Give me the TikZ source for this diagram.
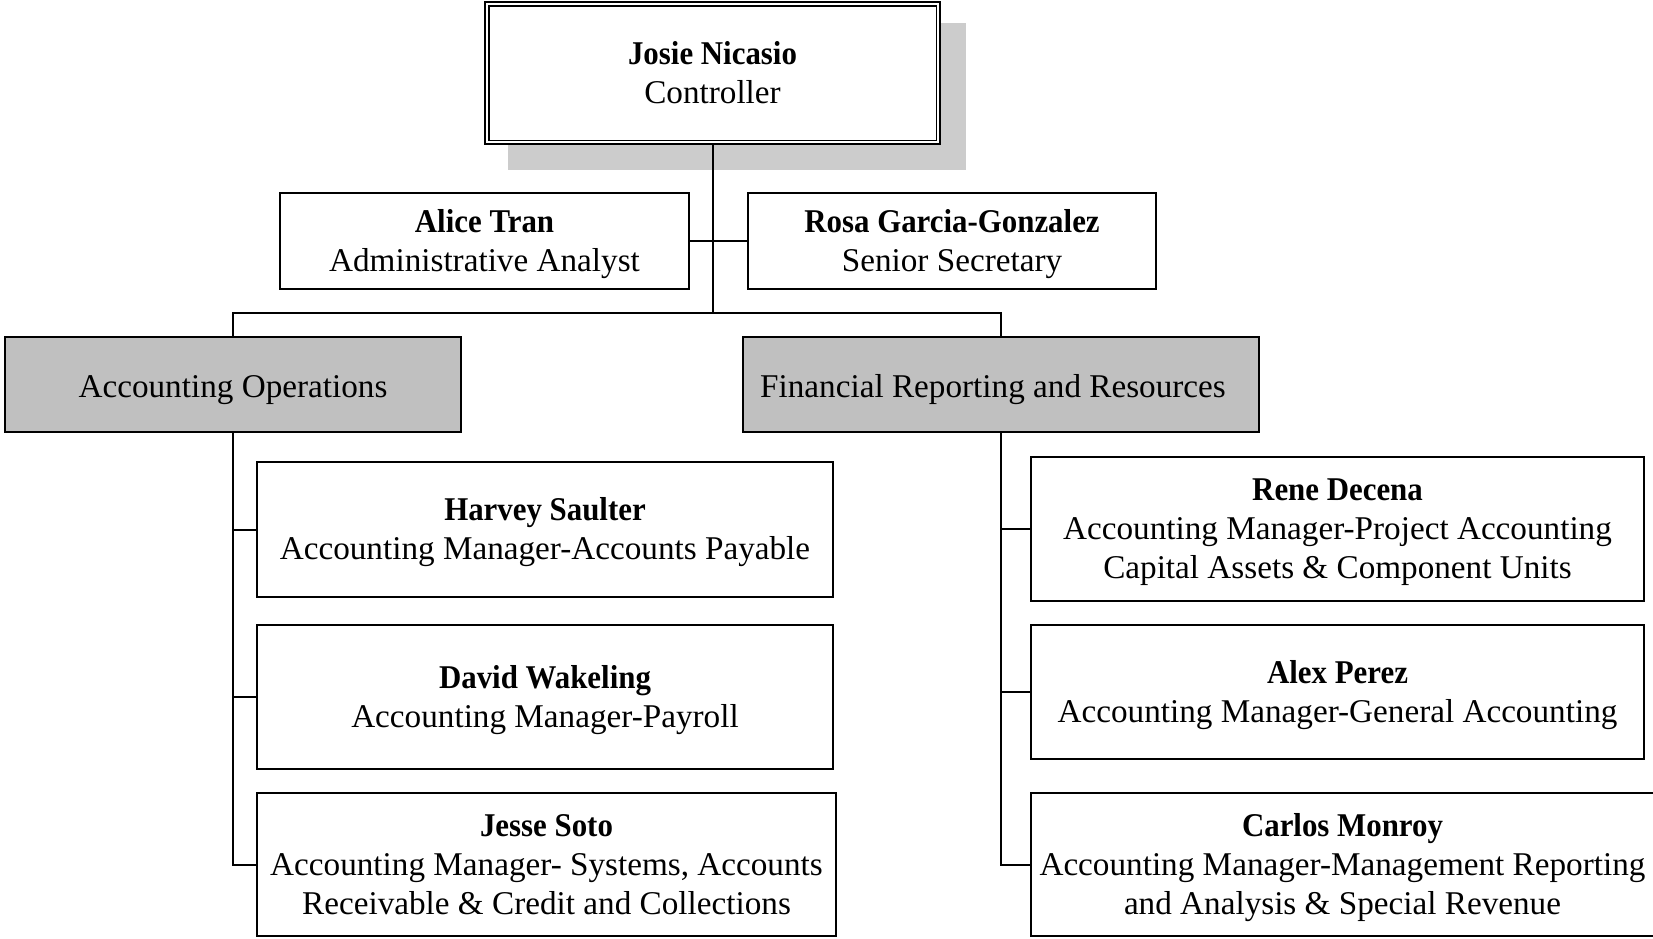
\documentclass[tikz,border=0pt]{standalone}
\usepackage{fontspec}
\setmainfont{Liberation Serif}
\definecolor{deptgray}{HTML}{C0C0C0}
\definecolor{shadowgray}{HTML}{CCCCCC}
\newcommand\pname[1]{\rule{0pt}{14.4pt}\scalebox{0.93}[1]{\textbf{#1}}}
\newcommand\dname[1]{\rule{0pt}{16.4pt}#1}
\begin{document}
\begin{tikzpicture}[x=0.5pt,y=-0.5pt,
  box/.style={draw, line width=1pt, fill=white, align=center, inner sep=0pt,
    font=\fontsize{16.6}{19.5}\selectfont},
  dept/.style={box, fill=deptgray},
  conn/.style={line width=1pt}]
\useasboundingbox (0,0) rectangle (1653,938);
% shadow of top box
\fill[shadowgray] (508,23) rectangle (966,170);
% nodes
\node[box, line width=1.3pt, minimum width=227.5pt, minimum height=71pt] (ctrl) at (712.5,73) {\scalebox{0.93}[1]{\textbf{Josie Nicasio}}\\Controller};
\draw[line width=0.6pt] ([xshift=2.6pt,yshift=-2.6pt]ctrl.north west) rectangle ([xshift=-2.6pt,yshift=2.6pt]ctrl.south east);
\node[box, minimum width=204.5pt, minimum height=48pt] (alice) at (484.5,241) {\pname{Alice Tran}\\Administrative Analyst};
\node[box, minimum width=204pt, minimum height=48pt] (rosa) at (952,241) {\pname{Rosa Garcia-Gonzalez}\\Senior Secretary};
\node[dept, minimum width=228pt, minimum height=47.5pt] (ops) at (233,384.5) {\dname{Accounting Operations}};
\node[dept, minimum width=258pt, minimum height=47.5pt] (fin) at (1001,384.5) {\dname{Financial Reporting and Resources}\hspace*{8pt}};
\node[box, minimum width=288pt, minimum height=67.5pt] (harvey) at (545,529.5) {\pname{Harvey Saulter}\\Accounting Manager-Accounts Payable};
\node[box, minimum width=288pt, minimum height=72pt] (david) at (545,697) {\pname{David Wakeling}\\Accounting Manager-Payroll};
\node[box, minimum width=289.5pt, minimum height=71.5pt] (jesse) at (546.5,864.5) {\scalebox{0.93}[1]{\textbf{Jesse Soto}}\\Accounting Manager- Systems, Accounts\\Receivable \& Credit and Collections};
\node[box, minimum width=306.5pt, minimum height=72pt] (rene) at (1337.5,529) {\pname{Rene Decena}\\Accounting Manager-Project Accounting\\Capital Assets \& Component Units};
\node[box, minimum width=306.5pt, minimum height=67pt] (alex) at (1337.5,692) {\pname{Alex Perez}\\Accounting Manager-General Accounting};
\node[box, minimum width=311.5pt, minimum height=71.5pt] (carlos) at (1342.5,864.5) {\pname{Carlos Monroy}\\Accounting Manager-Management Reporting\\and Analysis \& Special Revenue};
% connectors
\coordinate (j) at (712.5,313);
\draw[conn] (ctrl.south) -- (j);
\draw[conn] (alice.east) -- (rosa.west);
\draw[conn] (ops.north) |- (j) -| (fin.north);
\draw[conn] (ops.south) |- (jesse.west);
\draw[conn] (ops.south |- harvey.west) -- (harvey.west);
\draw[conn] (ops.south |- david.west) -- (david.west);
\draw[conn] (fin.south) |- (carlos.west);
\draw[conn] (fin.south |- rene.west) -- (rene.west);
\draw[conn] (fin.south |- alex.west) -- (alex.west);
\end{tikzpicture}
\end{document}
